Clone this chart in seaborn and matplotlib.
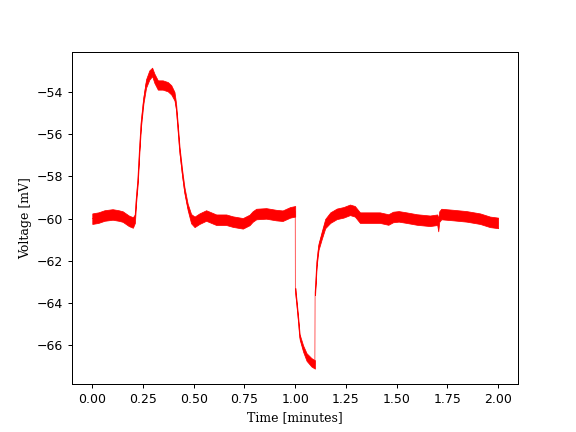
import numpy as np
import pandas as pd
import seaborn as sns
import matplotlib.pyplot as plt

# trace (minutes, mV), three pieces split at the two steps
t_rest = [0.0, 0.03, 0.06, 0.1, 0.13, 0.15, 0.18, 0.2, 0.21, 0.216, 0.224, 0.232, 0.24,
          0.252, 0.265, 0.281, 0.295, 0.306, 0.323, 0.347, 0.372, 0.389, 0.405, 0.413,
          0.421, 0.43, 0.443, 0.454, 0.47, 0.487, 0.504, 0.528, 0.561, 0.611, 0.66,
          0.693, 0.742, 0.775, 0.79, 0.808, 0.857, 0.906, 0.938, 0.975, 1.0]
v_rest = [-60.0, -59.95, -59.85, -59.8, -59.85, -59.9, -60.1, -60.18, -60.0, -59.1,
          -58.2, -56.75, -55.5, -54.4, -53.6, -53.2, -53.05, -53.35, -53.67, -53.67,
          -53.75, -53.9, -54.2, -54.7, -55.64, -56.75, -57.85, -58.65, -59.44, -60.0,
          -60.15, -60.0, -59.85, -60.05, -60.05, -60.14, -60.22, -60.06, -59.9, -59.78,
          -59.75, -59.83, -59.86, -59.7, -59.65]
w_rest = [0.25, 0.25, 0.25, 0.25, 0.25, 0.25, 0.25, 0.25, 0.2, 0.15, 0.15, 0.15, 0.15,
          0.15, 0.2, 0.22, 0.2, 0.22, 0.22, 0.22, 0.22, 0.22, 0.2, 0.15,
          0.15, 0.15, 0.15, 0.15, 0.15, 0.22, 0.25, 0.25, 0.25, 0.25, 0.25,
          0.25, 0.25, 0.25, 0.25, 0.25, 0.25, 0.25, 0.25, 0.25, 0.25]

t_hyper = [1.0005, 1.007, 1.015, 1.022, 1.039, 1.056, 1.08, 1.097]
v_hyper = [-63.4, -64.0, -64.8, -65.6, -66.15, -66.55, -66.8, -66.9]
w_hyper = [0.12, 0.12, 0.12, 0.12, 0.15, 0.18, 0.2, 0.2]

t_recov = [1.098, 1.106, 1.115, 1.131, 1.148, 1.173, 1.205, 1.238, 1.27, 1.294, 1.319,
           1.368, 1.417, 1.459, 1.482, 1.51, 1.548, 1.6, 1.664, 1.7, 1.705, 1.71, 1.72,
           1.78, 1.844, 1.911, 1.96, 2.0]
v_recov = [-63.5, -62.1, -61.33, -60.78, -60.23, -59.95, -59.77, -59.7, -59.58, -59.65,
           -59.95, -59.95, -59.95, -60.04, -59.92, -59.89, -59.95, -60.04, -60.1, -60.05,
           -60.3, -59.9, -59.78, -59.83, -59.89, -60.0, -60.15, -60.2]
w_recov = [0.12, 0.12, 0.15, 0.18, 0.22, 0.25, 0.25, 0.25, 0.25, 0.25, 0.25,
           0.25, 0.25, 0.25, 0.25, 0.25, 0.25, 0.25, 0.25, 0.25, 0.3, 0.25, 0.25,
           0.25, 0.25, 0.25, 0.25, 0.25]

df = pd.DataFrame({"time": t_rest + t_hyper + t_recov,
                   "voltage": v_rest + v_hyper + v_recov})

fig, ax = plt.subplots(figsize=(6.4, 4.8), dpi=90)

sns.lineplot(data=df, x="time", y="voltage", color="red", linewidth=0.5,
             sort=False, estimator=None, ax=ax)

# noise band around each piece
for t, v, w in [(t_rest, v_rest, w_rest), (t_hyper, v_hyper, w_hyper), (t_recov, v_recov, w_recov)]:
    v = np.array(v)
    w = np.array(w)
    ax.fill_between(t, v - w, v + w, color="red", linewidth=0.6, edgecolor="red")

ax.set_xlim(-0.1, 2.1)
ax.set_ylim(-67.85, -52.1)
ax.set_xticks([0.0, 0.25, 0.5, 0.75, 1.0, 1.25, 1.5, 1.75, 2.0])
ax.set_xlabel("Time [minutes]", family="serif")
ax.set_ylabel("Voltage [mV]", family="serif")

plt.savefig("out.png")
